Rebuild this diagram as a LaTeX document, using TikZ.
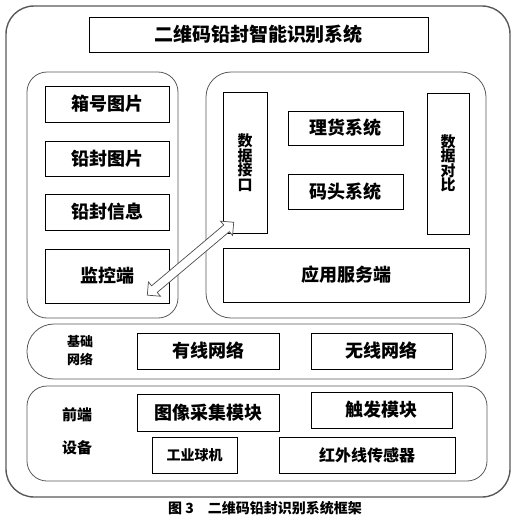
\documentclass[tikz,border=0pt]{standalone}
\usepackage{fontspec}
\setmainfont{Noto Sans CJK SC}
\usetikzlibrary{shapes.arrows,calc}

\begin{document}
\begin{tikzpicture}[x=1pt,y=-1pt]
\tikzstyle{box}=[rectangle,draw=black,fill=white,inner sep=0pt,font=\bfseries\fontsize{18}{18}\selectfont]
\tikzstyle{vbox}=[box,align=center,font=\bfseries\fontsize{15}{14.5}\selectfont]
\tikzstyle{frame}=[draw=black!65,line width=0.8pt]
\tikzstyle{tag}=[align=left,inner sep=0pt,font=\bfseries\fontsize{13}{18}\selectfont]
\tikzstyle{twoway}=[double arrow,draw=black!70,line width=0.7pt,fill=white,inner sep=0pt,text height=8pt,text depth=0pt,minimum width=18pt,double arrow head extend=5pt]
\useasboundingbox (0,0) rectangle (516,523);

\draw[frame,line width=1.4pt,rounded corners=28] (6,6) rectangle (510,497);
\draw[frame,rounded corners=20] (27,72) rectangle (178,318);
\draw[frame,rounded corners=25] (206,72) rectangle (486,318);
\draw[frame,rounded corners=27] (27,324) rectangle (486,379);
\draw[frame,rounded corners=20] (27,386) rectangle (487,481);

\node[box,minimum width=339,minimum height=35,font=\bfseries\fontsize{19}{19}\selectfont](sys) at (258.5,34.5) {二维码铅封智能识别系统};

\node[box,minimum width=124,minimum height=36](boxpic) at (107,104) {箱号图片};
\node[box,minimum width=124,minimum height=35](sealpic) at (107,158.5) {铅封图片};
\node[box,minimum width=124,minimum height=36](sealinfo) at (107,212) {铅封信息};
\node[box,minimum width=124,minimum height=54](mon) at (107,276) {监控端};

\node[vbox,minimum width=44,minimum height=141](iface) at (245,162.5) {数\\据\\接\\口};
\node[box,minimum width=115,minimum height=34](tally) at (345.5,128) {理货系统};
\node[box,minimum width=115,minimum height=35](dock) at (345.5,191.5) {码头系统};
\node[vbox,minimum width=42,minimum height=141](cmp) at (448,163.5) {数\\据\\对\\比};
\node[box,minimum width=246,minimum height=54](app) at (346,275) {应用服务端};

\node[tag](netlbl) at (80,351) {基础\\网络};
\node[box,minimum width=142,minimum height=36](wired) at (208,351) {有线网络};
\node[box,minimum width=141,minimum height=36](wless) at (381.5,351) {无线网络};

\node[tag,font=\bfseries\fontsize{15}{33}\selectfont](devlbl) at (77,431.5) {前端\\设备};
\node[box,minimum width=142,minimum height=37](capture) at (208,412.5) {图像采集模块};
\node[box,minimum width=141,minimum height=36](trigger) at (381.5,410) {触发模块};
\node[box,minimum width=85,minimum height=36,font=\bfseries\fontsize{14}{14}\selectfont](cam) at (194.5,455) {工业球机};
\node[box,minimum width=176,minimum height=36,font=\bfseries\fontsize{16}{16}\selectfont](ir) at (367,455) {红外线传感器};

\node[inner sep=0pt,font=\bfseries\fontsize{14}{14}\selectfont](cap) at (265,508) {图 3\quad 二维码铅封识别系统框架};

\coordinate (montip) at ($(mon.south east)+(-22,-8)$);
\coordinate (iftip) at ($(iface.south west)+(11,-11)$);
\path let \p1=($(iftip)-(montip)$), \n1={atan2(\y1,\x1)}, \n2={veclen(\x1,\y1)} in
  node[twoway,rotate=\n1,minimum height=\n2](link) at ($(montip)!0.5!(iftip)$) {};
\end{tikzpicture}
\end{document}
